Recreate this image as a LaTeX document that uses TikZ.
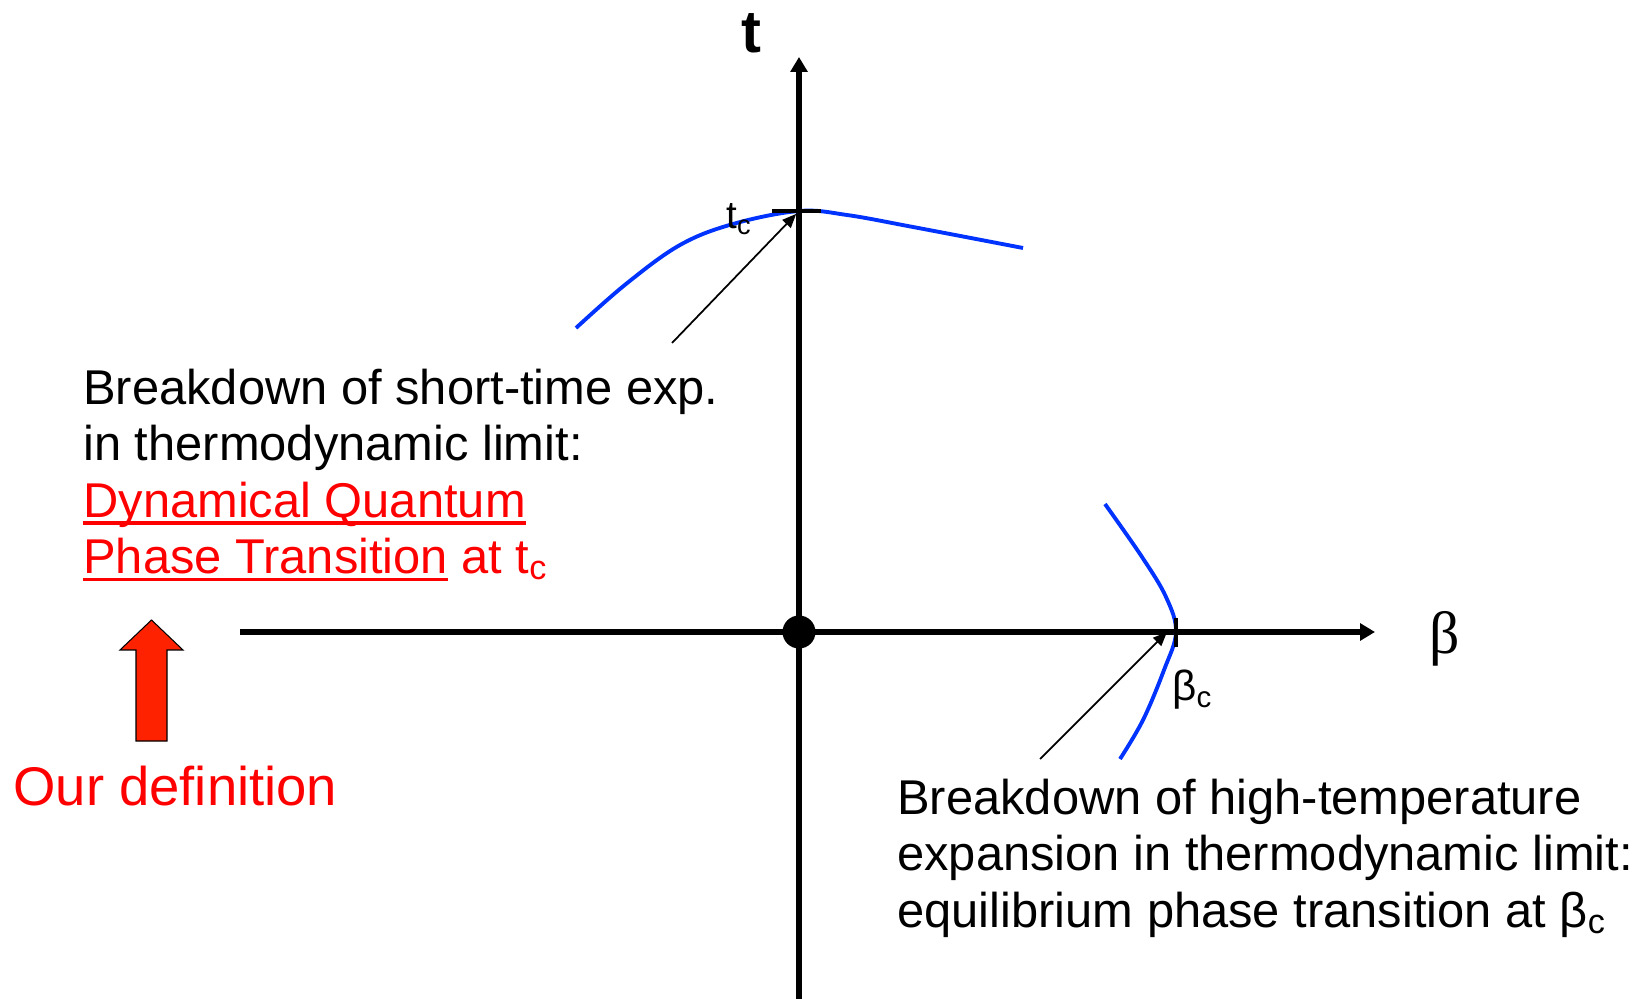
\documentclass[tikz,border=0pt]{standalone}
\usepackage{fontspec}
\setmainfont{Liberation Sans}
\newfontfamily\greekserif{Liberation Serif}
\usetikzlibrary{arrows.meta}
\definecolor{curveblue}{RGB}{0,51,255}
\definecolor{defred}{RGB}{255,0,0}
\definecolor{arrowred}{RGB}{255,34,0}
\newsavebox\ulbox
\newcommand{\redul}[1]{\sbox\ulbox{#1}\rlap{\rule[-4.4pt]{\wd\ulbox}{2pt}}\usebox\ulbox}

\begin{document}
\begin{tikzpicture}[x=0.02cm, y=-0.02cm,
  axis/.style={line width=3pt, -{Triangle[length=8.5pt, width=9.5pt]}},
  tick/.style={line width=2.4pt},
  branch/.style={curveblue, line width=2.2pt},
  pointer/.style={line width=1pt, -{Triangle[length=8pt, width=6.5pt]}},
  remark/.style={align=left, anchor=north west, inner sep=0pt,
                 font=\fontsize{27.8}{32}\selectfont},
  ]
  \useasboundingbox (0,0) rectangle (1636,999);

  \coordinate (O) at (799,632);
  \coordinate (tc) at (799,211);
  \coordinate (bc) at (1176,632);

  % axes
  \draw[axis] (240,632) -- (1375,632);
  \draw[axis] (799,999) -- (799,57);
  \fill (O) circle[radius=0.33cm];
  \node[font=\fontsize{34}{34}\selectfont\bfseries] (tlab) at (751,33) {t};
  \node[font=\greekserif\fontsize{34}{34}\selectfont] (betalab) at (1445,639) {β};

  % the two critical lines
  \draw[branch] plot[smooth, tension=0.6] coordinates
    {(576,328) (626,284) (680,245) (733,224) (799,211) (847,215) (913,227) (1023,248)};
  \draw[branch] plot[smooth, tension=0.6] coordinates
    {(1105,504) (1142,557) (1166,597) (1176,632) (1164,670) (1143,720) (1120,759)};
  \draw[tick] (tc) ++(-27,0) -- ++(49,0);
  \draw[tick] (bc) ++(0,-14) -- ++(0,29);
  \node[font=\fontsize{22}{22}\selectfont, anchor=base west, inner sep=0pt]
    (tclab) at (726,229) {t\textsubscript{c}};
  \node[font=\fontsize{24}{24}\selectfont, anchor=base west, inner sep=0pt]
    (bclab) at (1172,701) {β\textsubscript{c}};

  % explanations
  \node[remark] (shortexp) at (83,369) {Breakdown of short-time exp.\\
    in thermodynamic limit:\\
    \textcolor{defred}{\redul{Dynamical Quantum}}\\
    \textcolor{defred}{\redul{Phase Transition} at t\textsubscript{c}}};
  \node[remark] (hightemp) at (897,779) {Breakdown of high-temperature\\
    expansion in thermodynamic limit:\\
    equilibrium phase transition at β\textsubscript{c}};
  \coordinate (tcfoot) at (672,343);
  \coordinate (bcfoot) at (1040,759);
  \draw[pointer, shorten >=0.08cm] (tcfoot) -- (tc);
  \draw[pointer] (bcfoot) -- ([xshift=-0.18cm]bc);

  % our definition
  \node[font=\fontsize{31}{31}\selectfont, text=defred, anchor=base west,
        inner sep=0pt] (ourdef) at (13,805) {Our definition};
  \draw[fill=arrowred, line width=0.6pt] (136,741) -- (136,650) -- (120,650)
    -- (151.5,620) -- (183,650) -- (167,650) -- (167,741) -- cycle;
\end{tikzpicture}
\end{document}
